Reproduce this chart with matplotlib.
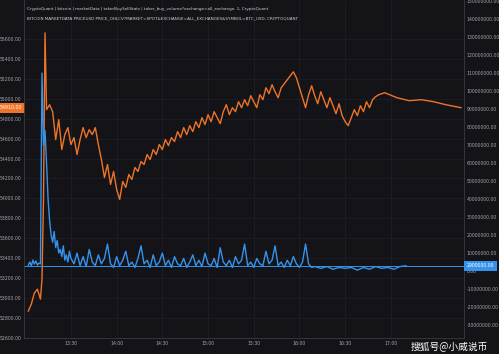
"""
BTC price vs taker buy volume (CryptoQuant style dark chart)
Saves out.png (499x354).
"""
import matplotlib.pyplot as plt
import matplotlib.ticker as mticker

# ── Data (minutes after 13:00) ─────────────────────────────────────────────
price_minutes = [
    2, 4, 6, 8, 10, 11, 12, 13, 14, 16, 18, 20, 22, 24, 26, 28, 30, 32, 34, 36,
    38, 40, 42, 44, 46, 48, 50, 52, 54, 56, 58, 60, 62, 64, 66, 68, 70, 72, 74, 76,
    78, 80, 82, 84, 86, 88, 90, 92, 94, 96, 98, 100, 102, 104, 106, 108, 110, 112, 114, 116,
    118, 120, 122, 124, 126, 128, 130, 132, 134, 136, 138, 140, 142, 144, 146, 148, 150, 152, 154, 156,
    158, 160, 162, 164, 166, 168, 170, 172, 174, 176, 178, 180, 182, 184, 186, 188, 190, 192, 194, 196,
    198, 200, 202, 204, 206, 208, 210, 212, 214, 216, 218, 220, 222, 224, 226, 228, 230, 232, 236, 244,
    252, 260, 268, 276, 286,
]
btc_price = [
    52870, 52940, 53050, 53090, 52990, 53190, 53990, 55660, 54890, 54940, 54870, 54590, 54790, 54490, 54640, 54710, 54540, 54610, 54440, 54590,
    54710, 54610, 54690, 54640, 54710, 54540, 54390, 54210, 54340, 54140, 54270, 54090, 53990, 54170, 54110, 54240, 54190, 54310, 54270, 54370,
    54340, 54440, 54390, 54490, 54440, 54540, 54490, 54590, 54530, 54610, 54570, 54670, 54610, 54710, 54640, 54730, 54670, 54770, 54710, 54810,
    54740, 54840, 54770, 54870, 54810, 54750, 54870, 54940, 54840, 54910, 54870, 54970, 54910, 54990, 54930, 55030, 54970, 54910, 55040, 54990,
    55110, 55050, 55140, 55070, 55010, 55110, 55150, 55190, 55230, 55270, 55210, 55110, 55010, 54910, 55040, 55130, 55030, 54950, 55070, 54990,
    54910, 55010, 54930, 54850, 54950, 54830, 54770, 54730, 54810, 54890, 54830, 54930, 54870, 54970, 54910, 54990, 55020, 55040, 55060, 55010,
    54980, 54990, 54970, 54940, 54910,
]

volume_minutes = [
    2, 3, 4, 5, 6, 7, 8, 9, 10, 11, 12, 13, 14, 15, 16, 17, 18, 19, 20, 21,
    22, 23, 24, 25, 26, 27, 28, 29, 30, 32, 34, 36, 38, 40, 42, 44, 46, 48, 50, 52,
    54, 56, 58, 60, 62, 64, 66, 68, 70, 72, 74, 76, 78, 80, 82, 84, 86, 88, 90, 92,
    94, 96, 98, 100, 102, 104, 106, 108, 110, 112, 114, 116, 118, 120, 122, 124, 126, 128, 130, 132,
    134, 136, 138, 140, 142, 144, 146, 148, 150, 152, 154, 156, 158, 160, 162, 164, 166, 168, 170, 172,
    174, 176, 178, 180, 182, 184, 186, 188, 190, 194, 198, 202, 206, 210, 214, 218, 222, 226, 230, 234,
    238, 242, 246, 250,
]
taker_buy_volume_m = [  # millions
    3.3, 5.0, 2.8, 6.1, 3.9, 5.6, 3.3, 4.4, 4.0, 110, 70, 78, 60, 40, 28, 20, 16, 22, 13, 17,
    10, 12, 8, 14, 6, 9, 5, 11, 7, 4, 10, 3, 8, 2.5, 12, 5, 3, 9, 4, 7,
    15, 4, 2, 8, 3, 6, 11, 3, 5, 2, 7, 14, 4, 6, 2, 9, 3, 5, 10, 3,
    6, 2, 8, 4, 3, 7, 2, 5, 9, 3, 6, 2.5, 10, 4, 3, 7, 2, 13, 5, 3,
    6, 2, 8, 4, 6, 15, 3, 5, 2, 7, 4, 3, 11, 4, 6, 14, 3, 5, 2, 6,
    3, 8, 4, 2, 5, 15, 4, 2, 2.5, 1.5, 2.5, 1, 2, 1.5, 2, 0.5, 2, 1, 2.5, 1.5,
    2, 1, 2.5, 2.9,
]

time_ticks = [30, 60, 90, 120, 150, 180, 210, 240]
time_labels = ["13:30", "14:00", "14:30", "15:00", "15:30", "16:00", "16:30", "17:00"]
price_ticks = list(range(52600, 55601, 200))
volume_ticks_m = list(range(-30, 151, 10))

title_lines = [
    "CryptoQuant | bitcoin | marketData | takerBuySellStats | taker_buy_volume?exchange=all_exchange, 1, CryptoQuant",
    "BITCOIN MARKETDATA PRICEUSD PRICE_OHLCV?MARKET=SPOT&EXCHANGE=ALL_EXCHANGES&SYMBOL=BTC_USD, CRYPTOQUANT",
]

# ── Style ──────────────────────────────────────────────────────────────────
BG = "#131318"
GRID = "#202128"
TXT = "#a4a4aa"
ORANGE = "#ee7428"
BLUE = "#3593ec"

plt.rcParams["font.family"] = ["DejaVu Sans", "Noto Sans CJK SC"]

fig = plt.figure(figsize=(4.99, 3.54), dpi=100, facecolor=BG)
ax = fig.add_axes([24 / 499, 16 / 354, 440 / 499, 338 / 354], facecolor=BG)
ax2 = ax.twinx()

ax.plot(price_minutes, btc_price, color=ORANGE, linewidth=1.0, zorder=3)
ax2.plot(volume_minutes, taker_buy_volume_m, color=BLUE, linewidth=1.0, zorder=3)
ax2.axhline(taker_buy_volume_m[-1], color=BLUE, linewidth=0.7)

ax.set_xlim(-0.8, 288)
ax.set_ylim(52610, 55990)
ax2.set_ylim(-37.2, 150.6)

ax.set_xticks(time_ticks)
ax.set_xticklabels(time_labels)
ax.set_yticks(price_ticks)
ax.yaxis.set_major_formatter(mticker.FuncFormatter(lambda v, p: f"{v:.2f}"))
ax2.set_yticks(volume_ticks_m)
ax2.yaxis.set_major_formatter(mticker.FuncFormatter(lambda v, p: f"{v * 1e6:.2f}"))

for a in (ax, ax2):
    a.tick_params(colors=TXT, labelsize=3.3, length=0, pad=2)
    for s in a.spines.values():
        s.set_color("#34353c")
        s.set_linewidth(0.6)
    a.spines["top"].set_visible(False)

ax.grid(True, color=GRID, linewidth=0.5)
ax.set_axisbelow(True)

# title lines
for i, line in enumerate(title_lines):
    ax.text(0.006, 0.978 - i * 0.027, line, transform=ax.transAxes, color="#d0d0d4",
            fontsize=3.0, va="top", ha="left")

# last-value labels
ax.annotate(f"{btc_price[-1]:.2f}", xy=(0, btc_price[-1]), xycoords=("axes fraction", "data"),
            xytext=(-1.5, 0), textcoords="offset points", ha="right", va="center",
            fontsize=3.4, color="white",
            bbox=dict(boxstyle="square,pad=0.55", fc=ORANGE, ec="none"))
ax2.annotate(f"{taker_buy_volume_m[-1] * 1e6:.2f}", xy=(1, taker_buy_volume_m[-1]),
             xycoords=("axes fraction", "data"), xytext=(2, 0), textcoords="offset points",
             ha="left", va="center", fontsize=3.3, color="white",
             bbox=dict(boxstyle="square,pad=0.5", fc=BLUE, ec="none"))

# watermark
fig.text(0.978, 0.006, "搜狐号@小威说币", color="white", fontsize=7, ha="right", va="bottom",
         family=["Noto Sans CJK SC", "DejaVu Sans"])

fig.savefig("out.png", dpi=100, facecolor=BG)
